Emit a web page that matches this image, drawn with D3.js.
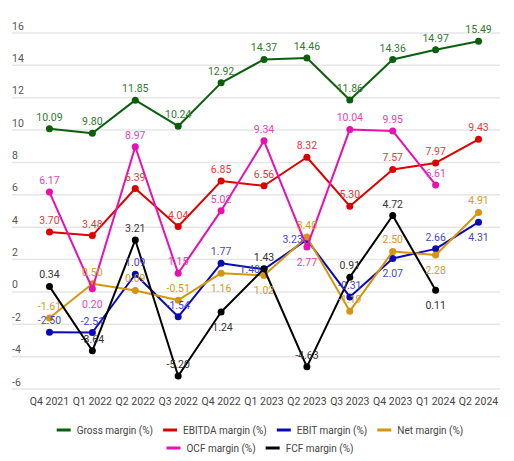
<!DOCTYPE html>
<html>
<head>
<meta charset="utf-8">
<script src="https://cdn.jsdelivr.net/npm/d3@7"></script>
<style>
  html, body { margin: 0; padding: 0; background: #fff; }
  svg { display: block; font-family: Roboto, "Noto Sans", sans-serif; }
</style>
</head>
<body>
<svg id="chart" width="514" height="461"></svg>
<script>
const categories = ["Q4 2021","Q1 2022","Q2 2022","Q3 2022","Q4 2022","Q1 2023","Q2 2023","Q3 2023","Q4 2023","Q1 2024","Q2 2024"];
const yTicks = [-6, -4, -2, 0, 2, 4, 6, 8, 10, 12, 14, 16];

const grossMargin  = [10.09, 9.80, 11.85, 10.24, 12.92, 14.37, 14.46, 11.86, 14.36, 14.97, 15.49];
const ebitdaMargin = [3.70, 3.48, 6.39, 4.04, 6.85, 6.56, 8.32, 5.30, 7.57, 7.97, 9.43];
const ebitMargin   = [-2.50, -2.51, 1.09, -1.54, 1.77, 1.40, 3.23, -0.31, 2.07, 2.66, 4.31];
const netMargin    = [-1.61, 0.50, 0.09, -0.51, 1.16, 1.02, 3.40, -1.19, 2.50, 2.28, 4.91];
const ocfMargin    = [6.17, 0.20, 8.97, 1.15, 5.02, 9.34, 2.77, 10.04, 9.95, 6.61, null];
const fcfMargin    = [0.34, -3.64, 3.21, -5.20, -1.24, 1.43, -4.63, 0.91, 4.72, 0.11, null];

// label placement (style): t = top, b = bottom, l = left
const grossPos  = "ttttttttttt".split("");
const ebitdaPos = "ttttttttttt".split("");
const ebitPos   = "tttttlltbtb".split("");
const netPos    = "ttttbbtttbt".split("");
const ocfPos    = "tbttttbtttt".split("");
const fcfPos    = "ttttbttttbt".split("");

const series = [
  { name: "Gross margin (%)",  values: grossMargin,  pos: grossPos,  color: "#0b5e0b", label: "#2f7a2f" },
  { name: "EBITDA margin (%)", values: ebitdaMargin, pos: ebitdaPos, color: "#dd0000", label: "#e23a3a" },
  { name: "EBIT margin (%)",   values: ebitMargin,   pos: ebitPos,   color: "#0a0ab4", label: "#4646cc" },
  { name: "Net margin (%)",    values: netMargin,    pos: netPos,    color: "#d4960c", label: "#d39a1e" },
  { name: "OCF margin (%)",    values: ocfMargin,    pos: ocfPos,    color: "#e810b0", label: "#e842b6" },
  { name: "FCF margin (%)",    values: fcfMargin,    pos: fcfPos,    color: "#000000", label: "#333333" }
];

const svg = d3.select("#chart");
const plot = { left: 28, right: 500, top: 33, bottom: 389, gridLeft: 12 };

const x = d3.scaleBand().domain(categories).range([plot.left, plot.right]).padding(0);
const y = d3.scaleLinear().domain([-6, 16]).range([plot.bottom, plot.top]);
const cx = c => x(c) + x.bandwidth() / 2;

// gridlines + y labels
const grid = svg.append("g");
grid.selectAll("line").data(yTicks).join("line")
  .attr("x1", plot.gridLeft).attr("x2", plot.right)
  .attr("y1", d => y(d)).attr("y2", d => y(d))
  .attr("stroke", "#e6e6e6").attr("stroke-width", 1.5);
grid.selectAll("text").data(yTicks).join("text")
  .attr("x", plot.gridLeft).attr("y", d => y(d) - 3.5)
  .attr("font-size", 10.5).attr("fill", "#555")
  .text(d => d);

// x labels
svg.append("g").selectAll("text").data(categories).join("text")
  .attr("x", d => cx(d)).attr("y", 405)
  .attr("text-anchor", "middle").attr("font-size", 10.5).attr("fill", "#444")
  .text(d => d);

// lines and points
const line = d3.line()
  .defined(d => d.v !== null)
  .x(d => cx(d.c)).y(d => y(d.v));

series.forEach(s => {
  const pts = categories.map((c, i) => ({ c, v: s.values[i], p: s.pos[i] }));
  s.pts = pts;
  const g = svg.append("g");
  g.append("path").datum(pts).attr("d", line)
    .attr("fill", "none").attr("stroke", s.color).attr("stroke-width", 2)
    .attr("stroke-linejoin", "round");
  g.selectAll("circle").data(pts.filter(d => d.v !== null)).join("circle")
    .attr("cx", d => cx(d.c)).attr("cy", d => y(d.v)).attr("r", 3.5)
    .attr("fill", s.color);
});

// data labels on top
series.forEach(s => {
  svg.append("g").selectAll("text").data(s.pts.filter(d => d.v !== null)).join("text")
    .attr("x", d => d.p === "l" ? cx(d.c) - 4 : cx(d.c))
    .attr("y", d => d.p === "t" ? y(d.v) - 8 : d.p === "b" ? y(d.v) + 19 : y(d.v) + 3.5)
    .attr("text-anchor", d => d.p === "l" ? "end" : "middle")
    .attr("font-size", 10.5).attr("fill", s.label)
    .text(d => d.v.toFixed(2));
});

// legend
const rows = [series.slice(0, 4), series.slice(4)];
const rowY = [430, 448];
const legendCenter = 260;
rows.forEach((row, ri) => {
  const g = svg.append("g");
  const items = row.map(s => {
    const it = g.append("g");
    it.append("line").attr("x1", 0).attr("x2", 14).attr("y1", 0).attr("y2", 0)
      .attr("stroke", s.color).attr("stroke-width", 3);
    const t = it.append("text").attr("x", 20).attr("y", 3.6)
      .attr("font-size", 10).attr("fill", "#444").text(s.name);
    return { it, w: 20 + t.node().getComputedTextLength() };
  });
  const gap = 10;
  const total = d3.sum(items, d => d.w) + gap * (items.length - 1);
  let xx = legendCenter - total / 2;
  items.forEach(d => {
    d.it.attr("transform", `translate(${xx},${rowY[ri]})`);
    xx += d.w + gap;
  });
});
</script>
</body>
</html>
